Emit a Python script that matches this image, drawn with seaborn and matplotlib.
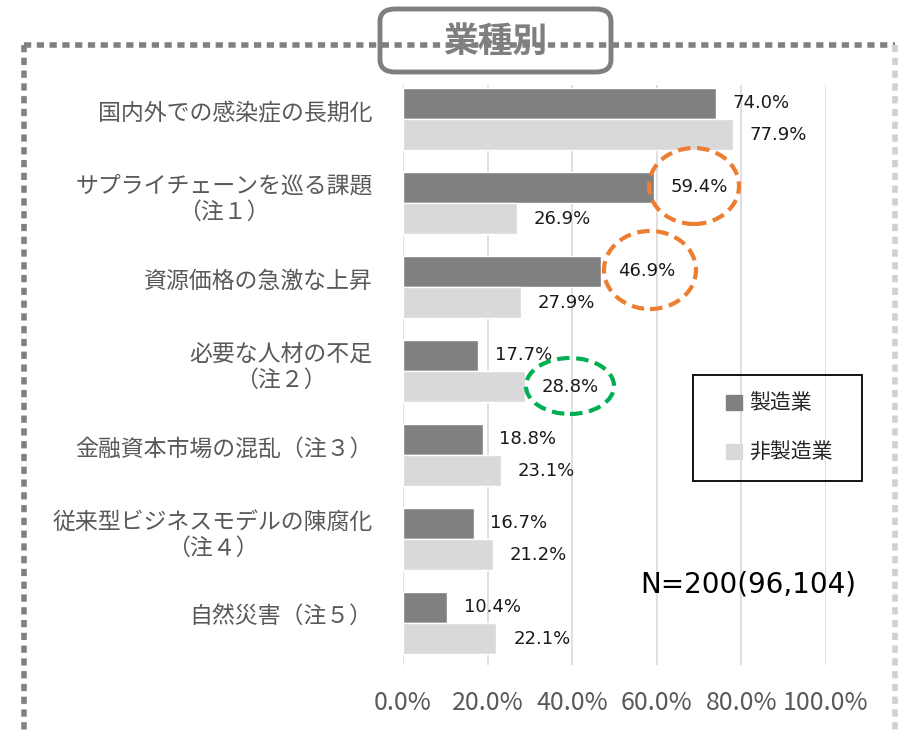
import matplotlib.pyplot as plt
import matplotlib.patches as mpatches
import matplotlib.transforms as mtransforms
from matplotlib.lines import Line2D
import pandas as pd
import seaborn as sns

CATEGORIAS = [
    '国内外での感染症の長期化',
    'サプライチェーンを巡る課題\n（注１）',
    '資源価格の急激な上昇',
    '必要な人材の不足\n（注２）',
    '金融資本市場の混乱（注３）',
    '従来型ビジネスモデルの陳腐化\n（注４）',
    '自然災害（注５）',
]
SEIZOU = [74.0, 59.4, 46.9, 17.7, 18.8, 16.7, 10.4]
HI_SEIZOU = [77.9, 26.9, 27.9, 28.8, 23.1, 21.2, 22.1]
GRUPOS = ['製造業', '非製造業']
XTICKS = [0, 20, 40, 60, 80, 100]
TITULO = '業種別'
NOTA = 'N=200(96,104)'

W, H = 899, 732


def fx(px):
    return px / W


def fy(py):
    return 1 - py / H


def main():
    sns.set_style('white')
    plt.rcParams['font.family'] = ['Noto Sans CJK JP', 'DejaVu Sans']

    df = pd.DataFrame({
        'categoria': CATEGORIAS * 2,
        'valor': SEIZOU + HI_SEIZOU,
        'grupo': [GRUPOS[0]] * len(CATEGORIAS) + [GRUPOS[1]] * len(CATEGORIAS),
    })

    fig = plt.figure(figsize=(W / 100, H / 100), dpi=100)
    ax = fig.add_axes([fx(403), fy(665), fx(826) - fx(403), fy(85) - fy(665)])

    sns.barplot(
        data=df, y='categoria', x='valor', hue='grupo', orient='h',
        palette=['#808080', '#d9d9d9'], width=0.74, ax=ax, legend=False,
        saturation=1,
    )

    for cont in ax.containers:
        ax.bar_label(cont, fmt='%.1f%%', padding=12, fontsize=13,
                     family='DejaVu Sans', color='#1a1a1a')

    ax.set_xlim(0, 100)
    ax.set_ylim(6.5, -0.405)
    ax.set_xticks(XTICKS)
    ax.set_xticklabels([f'{v:.1f}%' for v in XTICKS], fontsize=18, color='#595959')
    ax.tick_params(axis='x', length=0, pad=18)
    ax.tick_params(axis='y', length=0, pad=22)
    deslocamento = mtransforms.ScaledTranslation(0, 8 / 100, fig.dpi_scale_trans)
    for lab in ax.get_yticklabels():
        lab.set_fontsize(16.5)
        lab.set_color('#595959')
        lab.set_multialignment('center')
        lab.set_transform(lab.get_transform() + deslocamento)
    ax.set_xlabel('')
    ax.set_ylabel('')
    ax.grid(axis='x', color='#d9d9d9', lw=1.2)
    ax.set_axisbelow(True)
    for s in ax.spines.values():
        s.set_visible(False)

    # legenda
    fig.add_artist(mpatches.Rectangle(
        (fx(693), fy(481)), fx(862) - fx(693), fy(375) - fy(481),
        fill=False, edgecolor='black', lw=1.3, transform=fig.transFigure,
    ))
    handles = [
        mpatches.Patch(color='#808080', label=GRUPOS[0]),
        mpatches.Patch(color='#d9d9d9', label=GRUPOS[1]),
    ]
    fig.legend(
        handles=handles, loc='center left',
        bbox_to_anchor=(fx(726), fy(428)), fontsize=15,
        handlelength=0.75, handleheight=0.75, handletextpad=0.35,
        labelspacing=1.3, borderpad=0, borderaxespad=0,
        frameon=False,
    )

    fig.text(fx(748), fy(585), NOTA, fontsize=20, ha='center', va='center',
             family='DejaVu Sans', color='black')

    # moldura pontilhada
    estilo = dict(color='#808080', lw=4, linestyle=(0, (1.3, 1.0)),
                  transform=fig.transFigure)
    fig.add_artist(Line2D([fx(24), fx(895)], [fy(45), fy(45)], **estilo))
    fig.add_artist(Line2D([fx(24), fx(24)], [fy(45), fy(732)], **estilo))
    estilo['color'] = '#d0d0d0'
    fig.add_artist(Line2D([fx(895), fx(895)], [fy(45), fy(732)], **estilo))

    caixa = mpatches.FancyBboxPatch(
        (fx(380), fy(72)), fx(611) - fx(380), fy(9) - fy(72),
        boxstyle='round,pad=0,rounding_size=0.017',
        facecolor='white', edgecolor='#7f7f7f', lw=3.5,
        transform=fig.transFigure,
    )
    fig.add_artist(caixa)
    fig.text(fx(495), fy(41), TITULO, fontsize=25, fontweight='bold',
             color='#7f7f7f', ha='center', va='center')

    # destaques
    destaques = [
        (694, 186, 90, 76, '#ed7d31'),
        (650, 270, 92, 78, '#ed7d31'),
        (570, 386, 88, 56, '#00b050'),
    ]
    for cx, cy, w, h, cor in destaques:
        fig.add_artist(mpatches.Ellipse(
            (fx(cx), fy(cy)), fx(w), h / H, fill=False, edgecolor=cor,
            lw=3, linestyle=(0, (3, 1.6)), transform=fig.transFigure,
        ))

    fig.savefig('out.png', dpi=100)


if __name__ == '__main__':
    main()
